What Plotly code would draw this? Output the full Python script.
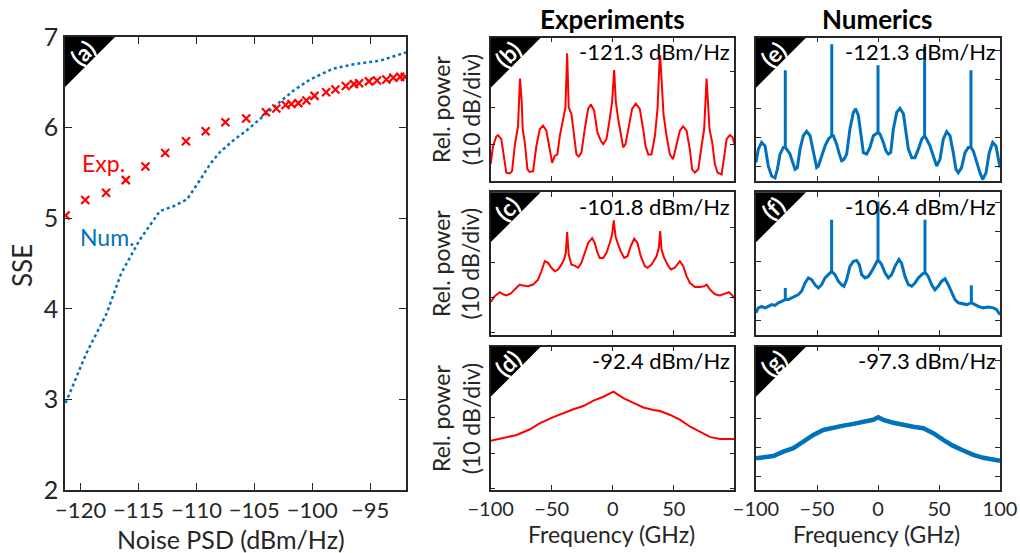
import plotly.graph_objects as go

W, H = 1020, 553
FONT = "Lato"
AX = "#262626"
RED = "#FF0000"
BLUE = "#0072BD"

# ---------------- panel (a): SSE vs noise PSD ----------------
exp_psd = [-121.3, -119.6, -117.8, -116.1, -114.4, -112.7, -110.9, -109.2, -107.5, -105.7,
           -104.0, -103.1, -102.3, -101.8, -101.2, -100.5, -99.8, -98.8, -98.0, -97.1,
           -96.4, -95.95, -95.1, -94.4, -93.6, -93.0, -92.4, -92.0]
exp_sse = [5.03, 5.20, 5.28, 5.42, 5.57, 5.72, 5.85, 5.96, 6.06, 6.10,
           6.17, 6.21, 6.25, 6.26, 6.27, 6.30, 6.35, 6.39, 6.42, 6.46,
           6.48, 6.49, 6.51, 6.52, 6.53, 6.55, 6.56, 6.56]
num_psd = [-121.3, -119.5, -117.75, -116.5, -114.9, -113.15, -112.0, -110.8, -109.7, -108.8,
           -107.96, -106.8, -105.65, -104.5, -103.1, -101.6, -100.2, -98.2, -96.4, -94.1, -91.9]
num_sse = [2.96, 3.51, 3.95, 4.39, 4.76, 5.08, 5.13, 5.21, 5.42, 5.60,
           5.73, 5.86, 5.97, 6.10, 6.25, 6.41, 6.53, 6.65, 6.70, 6.74, 6.83]

# ---------------- spectra (frequency in GHz, relative power in dB) ----------------
b_f = [-100, -98.1, -95.4, -94.0, -91.3, -89.1, -87.2, -84.4, -82.5, -80.3, -78.7, -77.6, -76.0, -74.6,
       -73.8, -72.1, -69.9, -68.0, -65.3, -62.6, -59.8, -57.1, -54.4, -51.6, -49.7, -47.5, -45.4, -43.4,
       -40.7, -38.8, -37.4, -36.1, -33.9, -31.7, -29.8, -27.9, -25.7, -23.0, -20.2, -18.0, -15.3, -12.6,
       -9.8, -7.9, -5.2, -2.5, -0.6, 1.1, 2.5, 4.4, 6.5, 8.5, 10.4, 13.1, 15.8, 18.8, 22.1, 24.9, 26.8,
       29.0, 31.7, 34.5, 36.6, 38.2, 38.8, 39.9, 41.5, 44.0, 46.7, 49.4, 52.2, 54.9, 57.6, 60.4, 63.1,
       65.0, 67.2, 70.0, 72.7, 74.8, 76.8, 78.1, 79.2, 81.4, 83.6, 85.8, 89.1, 91.3, 93.2, 95.9, 98.1, 100]
b_p = [-35.5, -30.5, -27.9, -27.5, -28.6, -33.2, -37.8, -38.0, -37.4, -30.5, -26.3, -24.9, -12.0, -18.5,
       -25.9, -29.5, -36.9, -37.6, -37.4, -30.5, -25.9, -24.9, -26.3, -32.3, -35.1, -33.2, -32.8, -27.7,
       -23.1, -19.9, -5.1, -19.9, -21.7, -27.7, -32.8, -33.4, -32.3, -25.9, -20.3, -19.1, -20.8, -26.8,
       -29.1, -30.0, -28.6, -23.1, -18.5, -9.7, -18.5, -23.1, -27.7, -30.9, -30.0, -25.1, -20.3, -18.9,
       -20.3, -25.9, -30.5, -32.8, -32.8, -27.7, -20.3, -7.9, -5.6, -12.0, -21.7, -27.7, -32.8, -34.1,
       -30.5, -26.3, -25.1, -26.3, -31.4, -36.9, -37.8, -36.9, -30.5, -25.9, -12.0, -18.5, -25.9, -29.5,
       -35.5, -37.8, -38.3, -33.2, -28.6, -27.5, -28.1, -30.5]

c_f = [-100, -96.7, -92.6, -89.9, -87.2, -83.6, -80.3, -76.2, -73.5, -69.4, -65.3, -61.2, -58.5, -55.7,
       -53.0, -50.3, -47.5, -44.8, -42.1, -39.9, -38.5, -37.4, -36.1, -33.9, -31.2, -28.4, -25.7, -23.0,
       -20.2, -16.9, -14.8, -12.6, -10.7, -7.9, -5.2, -2.5, -0.6, 0.8, 2.2, 4.4, 6.5, 9.3, 12.0, 14.7,
       17.5, 20.2, 22.9, 26.2, 28.4, 31.7, 35.8, 37.7, 38.8, 39.9, 42.1, 44.8, 47.5, 50.8, 54.9, 57.6,
       60.4, 63.1, 67.2, 71.3, 74.8, 76.8, 79.5, 83.6, 87.7, 91.8, 95.1, 97.8, 100]
c_p = [-31.3, -29.6, -28.5, -29.1, -29.4, -28.9, -27.7, -26.3, -26.6, -26.8, -26.3, -24.9, -22.5, -19.6,
       -20.1, -21.5, -22.5, -22.0, -20.6, -19.1, -17.2, -11.3, -17.7, -20.6, -20.9, -21.5, -20.1, -17.2,
       -14.4, -13.0, -14.4, -17.2, -18.7, -18.7, -17.2, -14.4, -12.0, -7.9, -12.5, -14.9, -16.8, -18.7,
       -18.2, -15.3, -13.2, -14.4, -18.2, -21.0, -21.5, -20.6, -18.2, -15.8, -11.0, -16.3, -18.7, -20.6,
       -22.0, -21.5, -19.6, -21.0, -23.9, -25.8, -27.0, -27.0, -26.8, -26.3, -27.7, -29.1, -29.4, -28.9,
       -28.5, -29.4, -30.4]

d_f = [-100, -89.7, -78.7, -67.8, -59.6, -48.7, -40.5, -32.3, -24.1, -15.9, -7.7, -2.2, 0.5, 3.3,
       8.7, 16.9, 25.1, 33.3, 38.8, 47.0, 55.2, 63.4, 71.6, 79.8, 88.0, 99.7]
d_p = [-26.5, -25.8, -24.9, -23.3, -21.6, -19.9, -18.7, -17.7, -16.8, -15.3, -14.2, -13.4, -12.8, -13.4,
       -14.6, -15.9, -17.2, -17.9, -18.2, -19.3, -20.7, -22.6, -24.0, -25.5, -26.0, -26.0]

e_f = [-100, -98.1, -95.4, -92.6, -89.9, -87.2, -84.4, -82.5, -80.3, -77.6, -76.0, -76.0, -76.0, -74.9,
       -72.1, -69.9, -68.0, -66.1, -63.9, -61.2, -58.5, -55.7, -53.0, -50.3, -48.9, -46.2, -43.4, -40.7,
       -37.9, -37.9, -37.9, -36.6, -33.9, -31.7, -29.8, -27.9, -25.7, -23.0, -20.2, -18.3, -16.1, -14.2,
       -12.0, -9.3, -6.6, -3.8, 0.0, 0.0, 0.0, 1.6, 4.4, 6.5, 8.5, 10.4, 12.6, 15.3, 18.0, 20.8, 22.9,
       24.9, 27.6, 30.3, 33.1, 35.8, 38.2, 38.2, 38.2, 39.9, 42.6, 45.3, 48.1, 50.8, 53.5, 56.3, 59.0,
       61.7, 63.9, 65.8, 68.5, 71.3, 74.0, 76.2, 76.2, 76.2, 78.1, 80.9, 83.6, 85.8, 88.5, 91.2, 94.0,
       96.7, 100]
e_p = [-38.5, -33.9, -31.6, -32.8, -39.7, -43.1, -43.7, -40.8, -35.6, -33.3, -33.3, -6.9, -33.3, -33.9,
       -35.6, -38.5, -40.8, -40.2, -33.9, -29.3, -27.8, -29.3, -34.5, -40.2, -39.7, -36.2, -32.8, -30.5,
       -29.3, 2.0, -29.3, -29.3, -32.2, -35.6, -37.9, -37.4, -35.6, -27.0, -21.3, -20.1, -22.4, -28.2,
       -35.1, -35.6, -33.3, -29.3, -28.2, -5.2, -28.2, -28.7, -31.6, -34.5, -35.6, -35.1, -27.0, -21.3,
       -19.9, -21.8, -28.2, -33.9, -36.8, -36.8, -33.9, -30.5, -29.3, 1.1, -29.3, -30.5, -32.8, -36.2,
       -39.7, -37.4, -30.5, -27.9, -29.3, -35.1, -40.8, -42.0, -40.2, -35.1, -33.3, -33.3, -6.9, -33.3,
       -34.5, -38.5, -42.0, -44.3, -42.0, -35.1, -31.6, -32.8, -40.2]

f_f = [-100, -98.1, -95.4, -92.6, -89.9, -87.2, -84.4, -81.7, -79.0, -76.8, -76.0, -76.0, -76.0, -73.5,
       -70.8, -68.0, -65.3, -62.6, -59.8, -57.1, -54.4, -51.6, -48.9, -46.2, -43.4, -40.7, -38.5, -38.0,
       -38.0, -38.0, -35.3, -32.5, -29.8, -27.9, -25.7, -23.0, -20.2, -17.5, -15.3, -13.4, -10.7, -7.9,
       -5.2, -2.5, -0.6, 0.0, 0.0, 0.0, 3.0, 5.7, 8.5, 11.2, 13.9, 17.2, 19.3, 22.1, 24.9, 27.6, 30.3,
       33.1, 35.8, 38.5, 38.5, 38.5, 41.2, 44.0, 46.7, 49.4, 52.2, 54.9, 57.6, 60.4, 63.1, 65.8, 68.6,
       72.7, 76.5, 76.5, 76.5, 79.5, 82.2, 86.3, 90.4, 94.5, 97.3, 100]
f_p = [-37.4, -35.7, -35.2, -35.7, -35.2, -34.6, -34.9, -34.0, -33.5, -32.9, -32.9, -29.0, -32.9, -32.9,
       -32.4, -31.8, -31.2, -30.1, -27.3, -25.6, -26.2, -27.9, -29.0, -27.9, -25.6, -24.5, -23.4, -23.4,
       -6.0, -23.4, -24.5, -26.7, -27.9, -28.4, -26.2, -21.7, -20.0, -19.7, -21.1, -24.5, -25.6, -25.1,
       -23.4, -21.1, -19.7, -19.4, 0.2, -19.4, -21.1, -23.9, -25.6, -24.5, -21.7, -19.4, -20.6, -25.1,
       -27.9, -28.4, -27.3, -25.6, -24.5, -23.7, -6.0, -23.7, -25.1, -27.9, -29.6, -28.4, -26.7, -25.9,
       -27.9, -30.7, -32.9, -34.0, -34.3, -34.6, -34.0, -28.1, -34.0, -34.6, -35.2, -35.7, -35.4, -35.7,
       -36.3, -38.0]

g_f = [-100, -94.0, -85.8, -77.6, -69.4, -61.2, -53.0, -44.8, -36.6, -28.4, -20.2, -12.0, -3.9, 0.2,
       4.3, 12.5, 20.7, 28.9, 37.1, 45.3, 53.5, 61.7, 69.9, 78.1, 86.3, 94.5, 100]
g_p = [-33.6, -33.2, -32.8, -31.3, -30.1, -27.8, -25.5, -23.8, -22.9, -22.3, -21.7, -20.9, -20.3, -19.4,
       -20.3, -21.3, -22.1, -22.7, -23.2, -24.9, -27.2, -29.3, -30.9, -32.4, -33.4, -33.9, -34.4]

panel_labels = ["(a)", "(b)", "(c)", "(d)", "(e)", "(f)", "(g)"]
psd_labels = ["-121.3 dBm/Hz", "-101.8 dBm/Hz", "-92.4 dBm/Hz",
              "-121.3 dBm/Hz", "-106.4 dBm/Hz", "-97.3 dBm/Hz"]


# ---------------- layout geometry (pixels -> paper) ----------------
def px(x):
    return x / W


def py(y):
    return 1 - y / H


A_BOX = (65, 406, 37, 490)           # left, right, top, bottom
COLS = [(490.7, 734.3), (756, 1000)]
ROWS = [(37.7, 181), (192.3, 334.5), (346.7, 490)]

fig = go.Figure()

# panel (a)
fig.add_trace(go.Scatter(x=num_psd, y=num_sse, mode="lines", xaxis="x", yaxis="y",
                         line=dict(color=BLUE, width=2.5, dash="dot"), showlegend=False))
fig.add_trace(go.Scatter(x=exp_psd, y=exp_sse, mode="markers", xaxis="x", yaxis="y",
                         marker=dict(symbol="x-thin", size=8, line=dict(color=RED, width=2.2)),
                         showlegend=False))

spectra = [(b_f, b_p, RED, 2), (c_f, c_p, RED, 2), (d_f, d_p, RED, 2),
           (e_f, e_p, BLUE, 3), (f_f, f_p, BLUE, 3), (g_f, g_p, BLUE, 4.5)]
yranges = [[-40.1, -0.8], [-40.6, 0.1], [-40.3, -0.2],
           [-44.8, 4.25], [-44.7, 3.3], [-44.5, 4.9]]

for i, (fx, fp, col, lw) in enumerate(spectra):
    k = i + 2
    fig.add_trace(go.Scatter(x=fx, y=fp, mode="lines", xaxis=f"x{k}", yaxis=f"y{k}",
                             line=dict(color=col, width=lw), showlegend=False))

axis_common = dict(showline=True, linecolor=AX, linewidth=1.5, mirror="ticks", ticks="inside",
                   tickcolor=AX, tickwidth=1.2, showgrid=False, zeroline=False, tickangle=0,
                   automargin=False, tickfont=dict(family=FONT, color=AX))

layout = dict(width=W, height=H, margin=dict(l=0, r=0, t=0, b=0, autoexpand=False),
              paper_bgcolor="white", plot_bgcolor="white", showlegend=False,
              font=dict(family=FONT, color=AX))

l, r, t, b = A_BOX
layout["xaxis"] = dict(axis_common, domain=[px(l), px(r)], range=[-121.35, -91.9],
                       tickvals=[-120, -115, -110, -105, -100, -95], ticklen=7,
                       tickfont=dict(family=FONT, color=AX, size=22), anchor="y")
layout["yaxis"] = dict(axis_common, domain=[py(b), py(t)], range=[2, 7], dtick=1, ticklen=7,
                       tickfont=dict(family=FONT, color=AX, size=25), anchor="x")

for i in range(6):
    k = i + 2
    col = i // 3
    row = i % 3
    cl, cr = COLS[col]
    rt, rb = ROWS[row]
    xr = [-100, 99.5] if col == 0 else [-100, 100]
    layout[f"xaxis{k}"] = dict(axis_common, domain=[px(cl), px(cr)], range=xr,
                               tickvals=[-100, -50, 0, 50, 100], ticklen=5,
                               showticklabels=(row == 2), anchor=f"y{k}",
                               tickfont=dict(family=FONT, color=AX, size=20))
    layout[f"yaxis{k}"] = dict(axis_common, domain=[py(rb), py(rt)], range=yranges[i],
                               dtick=10, tick0=0, ticklen=5, showticklabels=False,
                               anchor=f"x{k}")

fig.update_layout(**layout)

shapes = []
annotations = []


def note(x, y, text, size, color=AX, angle=0):
    annotations.append(dict(x=px(x), y=py(y), xref="paper", yref="paper", text=text,
                            showarrow=False, textangle=angle, xanchor="center", yanchor="middle",
                            font=dict(family=FONT, size=size, color=color)))


boxes = [(A_BOX[0], A_BOX[2])] + [(COLS[c][0], ROWS[r][0]) for c in range(2) for r in range(3)]
for (x0, y0), lab in zip(boxes, panel_labels):
    leg = 50
    shapes.append(dict(type="path", xref="paper", yref="paper",
                       path=f"M {px(x0)},{py(y0)} L {px(x0 + leg)},{py(y0)} L {px(x0)},{py(y0 + leg)} Z",
                       fillcolor="black", line=dict(width=0), layer="above"))
    note(x0 + 17, y0 + 16, f"<b>{lab}</b>", 23, "white", -45)

# PSD labels in spectra panels
for i, txt in enumerate(psd_labels):
    col = i // 3
    row = i % 3
    cl, cr = COLS[col]
    rt, rb = ROWS[row]
    annotations.append(dict(x=px(cr - 2), y=py(rt + 14), xref="paper", yref="paper", text=txt,
                            showarrow=False, xanchor="right", yanchor="middle",
                            font=dict(family=FONT, size=22, color="black")))

# Rel. power labels
for row in range(3):
    rt, rb = ROWS[row]
    note(456, (rt + rb) / 2, "Rel. power<br>(10 dB/div)", 23, AX, -90)

# column titles
note(612, 19, "<b>Experiments</b>", 26, "black")
note(877, 19, "<b>Numerics</b>", 26, "black")

# frequency axis titles
note(611, 534, "Frequency (GHz)", 23)
note(876, 534, "Frequency (GHz)", 23)

# panel (a) axis titles and curve labels
note(231, 539, "Noise PSD (dBm/Hz)", 25)
note(22, 266, "SSE", 26, AX, -90)
note(103, 163, "Exp.", 23, RED)
note(107, 237, "Num.", 23, BLUE)

fig.update_layout(shapes=shapes, annotations=annotations)
fig.write_html("out.html", config={"displayModeBar": False},
               post_script="document.body.style.margin='0';document.body.style.padding='0';")
